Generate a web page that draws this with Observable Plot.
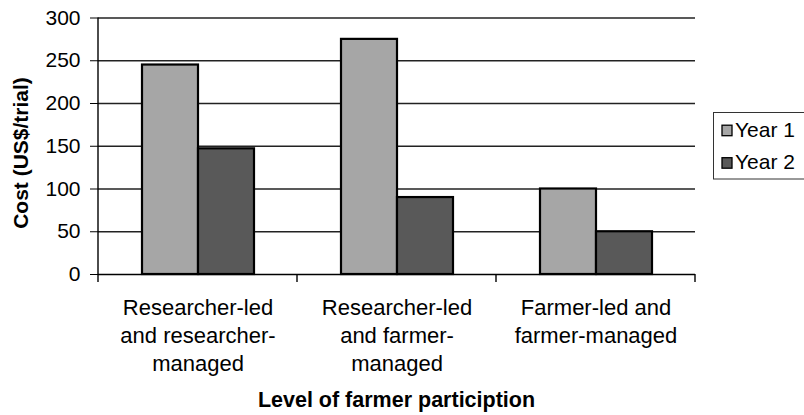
<!DOCTYPE html>
<html>
<head>
<meta charset="utf-8">
<script src="https://cdn.jsdelivr.net/npm/d3@7"></script>
<script src="https://cdn.jsdelivr.net/npm/@observablehq/plot@0.6"></script>
<style>
  html, body { margin: 0; padding: 0; background: #fff; }
  #chart svg { display: block; }
</style>
</head>
<body>
<div id="chart"></div>
<script>
// ---- data ----
const categories = [
  "Researcher-led\nand researcher-\nmanaged",
  "Researcher-led\nand farmer-\nmanaged",
  "Farmer-led and\nfarmer-managed"
];
const seriesNames = ["Year 1", "Year 2"];
const year1 = [245, 275, 100];
const year2 = [147, 90, 50];
const yTicks = [0, 50, 100, 150, 200, 250, 300];
const xTitle = "Level of farmer particiption";
const yTitle = "Cost (US$/trial)";
const fills = ["#a6a6a6", "#595959"];

const rows = categories.flatMap((c, i) => [
  {category: c, year: seriesNames[0], cost: year1[i]},
  {category: c, year: seriesNames[1], cost: year2[i]}
]);

const FONT = "'Liberation Sans', Arial, Helvetica, sans-serif";

const chart = Plot.plot({
  width: 804,
  height: 415,
  marginLeft: 97,
  marginRight: 108.5,
  marginTop: 17.5,
  marginBottom: 141,
  style: {fontFamily: FONT, fontSize: "21px", color: "#000", background: "#fff", overflow: "visible"},
  fx: {domain: categories, paddingInner: 0, paddingOuter: 0, label: null},
  x: {domain: seriesNames, paddingInner: 0, paddingOuter: 0.75, axis: null},
  y: {domain: [0, 300], label: null},
  color: {domain: seriesNames, range: fills},
  marks: [
    Plot.ruleY(yTicks.slice(1), {stroke: "#222", strokeWidth: 1.4}),
    Plot.axisY(yTicks, {anchor: "left", tickSize: 8, tickPadding: 10, fontSize: 21, label: null}),
    Plot.axisFx({anchor: "bottom", tickSize: 0, tickPadding: 21, fontSize: 22, lineHeight: 1.27, label: null}),
    Plot.barY(rows, {fx: "category", x: "year", y: "cost", fill: "year", stroke: "#000", strokeWidth: 2.2}),
    Plot.ruleY([0], {stroke: "#000", strokeWidth: 1.4})
  ]
});

document.getElementById("chart").appendChild(chart);

// ---- enforce axis font sizes ----
const svg = d3.select(chart);
svg.selectAll('g[aria-label="y-axis tick label"], g[aria-label="y-axis tick label"] text')
  .attr("font-size", 21).style("font-size", "21px");
svg.selectAll('g[aria-label="fx-axis tick label"], g[aria-label="fx-axis tick label"] text')
  .attr("font-size", 22).style("font-size", "22px");

// ---- extras drawn from the library's scales ----
const fxS = chart.scale("fx");
const yS = chart.scale("y");
const starts = categories.map(c => fxS.apply(c));
const xEnd = starts[starts.length - 1] + fxS.bandwidth;
const xStart = starts[0];
const y0 = yS.apply(0), yTop = yS.apply(300);

// y axis line
svg.append("line")
  .attr("x1", xStart).attr("x2", xStart)
  .attr("y1", yTop).attr("y2", y0)
  .attr("stroke", "#000").attr("stroke-width", 1.4);

// category boundary ticks
svg.append("g").selectAll("line").data(starts.concat([xEnd])).join("line")
  .attr("x1", d => d).attr("x2", d => d)
  .attr("y1", y0).attr("y2", y0 + 8)
  .attr("stroke", "#000").attr("stroke-width", 1.4);

// axis titles
svg.append("text")
  .attr("x", (xStart + xEnd) / 2).attr("y", 406.5)
  .attr("text-anchor", "middle")
  .attr("font-family", FONT).attr("font-size", 21.5).attr("font-weight", "bold")
  .attr("fill", "#000")
  .text(xTitle);

svg.append("text")
  .attr("transform", "translate(28,153) rotate(-90)")
  .attr("text-anchor", "middle")
  .attr("font-family", FONT).attr("font-size", 21).attr("font-weight", "bold")
  .attr("fill", "#000")
  .text(yTitle);

// legend
const colorS = chart.scale("color");
const lg = svg.append("g").attr("text-anchor", "start");
lg.append("rect")
  .attr("x", 713.5).attr("y", 112.5).attr("width", 110).attr("height", 66.5)
  .attr("fill", "#fff").attr("stroke", "#333").attr("stroke-width", 1);
seriesNames.forEach((s, i) => {
  const by = 136.7 + i * 32.5;
  lg.append("rect")
    .attr("x", 722).attr("y", by - 11.5).attr("width", 10).attr("height", 10.5)
    .attr("fill", colorS.apply(s)).attr("stroke", "#000").attr("stroke-width", 1.3);
  lg.append("text")
    .attr("x", 735).attr("y", by)
    .attr("text-anchor", "start")
    .attr("font-family", FONT).attr("font-size", 21)
    .attr("fill", "#000")
    .text(s);
});
</script>
</body>
</html>
